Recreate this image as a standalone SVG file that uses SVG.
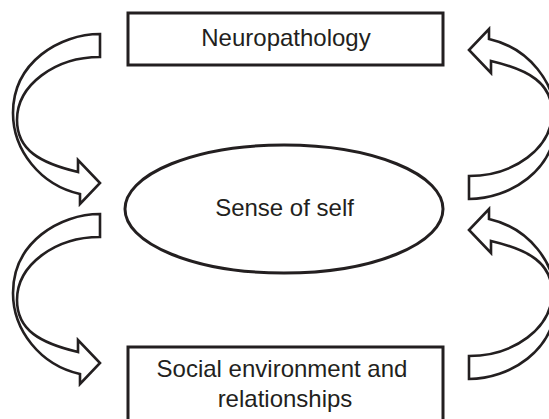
<svg xmlns="http://www.w3.org/2000/svg" xmlns:xlink="http://www.w3.org/1999/xlink" width="549" height="419" viewBox="0 0 549 419">
<style>
.box{fill:#fff;stroke:#231f20;stroke-width:3}
.arr{fill:#fff;stroke:#231f20;stroke-width:2.6;stroke-linejoin:miter}
.lbl{font-family:"Liberation Sans",Arial,sans-serif;font-size:24px;fill:#231f20;text-anchor:middle}
</style>
<defs>
<path id="carrow" d="M100,34 C60,34 13,62 13,113 C13,150 40,185 80,194 L80,204 L100,183 L78,160 L78,172 C40,163 17,150 17,120 C17,85 55,57 100,57 Z"/>
</defs>
<rect width="549" height="419" fill="#fff"/>
<g id="connectors">
<use xlink:href="#carrow" class="arr"/>
<use xlink:href="#carrow" class="arr" transform="translate(0,180)"/>
<use xlink:href="#carrow" class="arr" transform="rotate(180,284.5,116.5)"/>
<use xlink:href="#carrow" class="arr" transform="translate(0,180) rotate(180,284.5,116.5)"/>
</g>
<g id="neuropathology">
<rect class="box" x="128" y="13" width="315" height="52"/>
<text class="lbl" x="286" y="46">Neuropathology</text>
</g>
<g id="sense-of-self">
<ellipse class="box" cx="284" cy="209" rx="159" ry="64" stroke-width="2.6"/>
<text class="lbl" x="284.5" y="216">Sense of self</text>
</g>
<g id="social-environment">
<rect class="box" x="128" y="347" width="315" height="80"/>
<text class="lbl" x="282" y="377">Social environment and</text>
<text class="lbl" x="285" y="407">relationships</text>
</g>
</svg>
